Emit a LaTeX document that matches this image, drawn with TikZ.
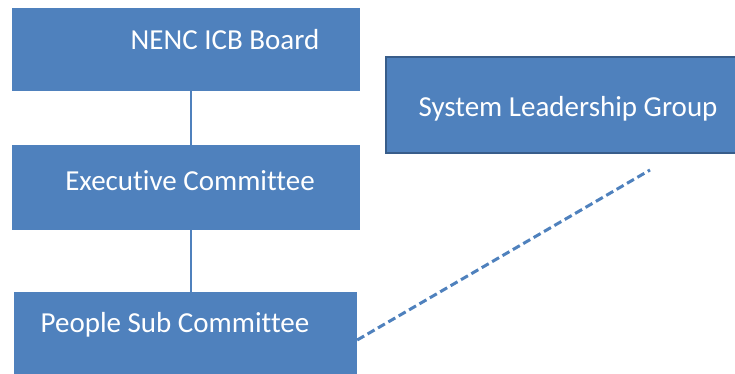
\documentclass[tikz,border=0pt]{standalone}
\usepackage{fontspec}
\setmainfont{Carlito}[Ligatures=NoCommon]
\usepackage{tikz}
\usetikzlibrary{calc}

\definecolor{accent}{HTML}{4F81BD}
\definecolor{accentdark}{HTML}{385D8A}

\tikzset{
  box/.style={rectangle, fill=accent, inner sep=0pt},
  txt/.style={text=white, font=\fontsize{29}{34}\selectfont},
  link/.style={accent, line width=2.8pt},
}

\begin{document}
\begin{tikzpicture}[x=1pt,y=-1pt]
\useasboundingbox (0,0) rectangle (735,374);
\clip (0,0) rectangle (735,374);

% Committee chain
\node[box, minimum width=348, minimum height=83,
  label={[txt,xshift=39,yshift=9.5]center:NENC ICB Board}] (board) at (186,49.5) {};
\node[box, minimum width=348, minimum height=85,
  label={[txt,xshift=4,yshift=6.5]center:Executive Committee}] (exec) at (186,187.5) {};
\node[box, minimum width=343, minimum height=90,
  label={[txt,xshift=-10.5,yshift=12]center:People Sub Committee}] (people) at (185.5,337) {};

% Side group
\node[box, draw=accentdark, line width=1.5pt, minimum width=354, minimum height=96,
  label={[txt,xshift=5,yshift=-4]center:System Leadership Group}] (slg) at (563,105) {};

% Connectors
\draw[link] ([xshift=5pt]board.south) -- ([xshift=5pt]exec.north);
\draw[link] ([xshift=5pt]exec.south) -- ([xshift=5.5pt]people.north);
\coordinate (slgend) at (650,170);
\draw[accent, line width=3pt, dash pattern=on 8pt off 4pt] ($(people.east)+(0,3)$) -- (slgend);
\end{tikzpicture}
\end{document}
